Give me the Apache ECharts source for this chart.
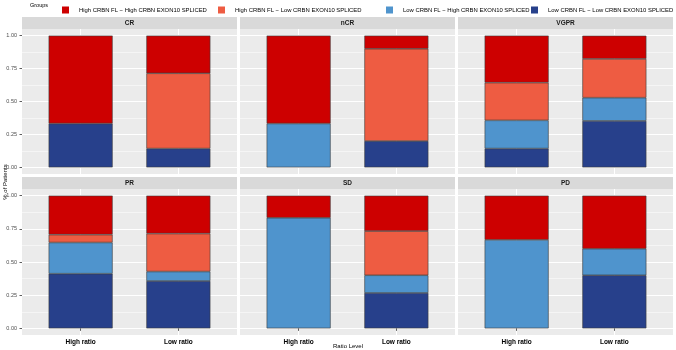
<!DOCTYPE html>
<html>
<head>
<meta charset="utf-8">
<script src="https://cdn.jsdelivr.net/npm/echarts@6/dist/echarts.min.js"></script>
<style>
  html, body { margin: 0; padding: 0; background: #fff; }
  #chart { width: 676px; height: 350px; }
</style>
</head>
<body>
<div id="chart"></div>
<script>
// facets and categories
var responses = ['CR', 'nCR', 'VGPR', 'PR', 'SD', 'PD'];
var ratioLevels = ['High ratio', 'Low ratio'];
var groupNames = [
  'High CRBN FL \u2212 High CRBN EXON10 SPLICED',
  'High CRBN FL \u2212 Low CRBN EXON10 SPLICED',
  'Low CRBN FL \u2212 High CRBN EXON10 SPLICED',
  'Low CRBN FL \u2212 Low CRBN EXON10 SPLICED'
];

// share of patients, [High ratio, Low ratio] for each response in order
var highFlHighSpliced = [[0.667, 0.286], [0.667, 0.100], [0.357, 0.176], [0.294, 0.286], [0.167, 0.267], [0.333, 0.400]];
var highFlLowSpliced  = [[0, 0.571], [0, 0.700], [0.286, 0.294], [0.059, 0.286], [0, 0.333], [0, 0]];
var lowFlHighSpliced  = [[0, 0], [0.333, 0], [0.214, 0.176], [0.235, 0.071], [0.833, 0.133], [0.667, 0.200]];
var lowFlLowSpliced   = [[0.333, 0.143], [0, 0.200], [0.143, 0.353], [0.412, 0.357], [0, 0.267], [0, 0.400]];

var yTicks = [0, 0.25, 0.5, 0.75, 1];
var yMinorTicks = [0.125, 0.375, 0.625, 0.875];
var xTicks = [1, 2];

var colors = ['#CD0000', '#EE5C42', '#4F94CD', '#27408B'];
var font = "'Liberation Sans', Arial, sans-serif";

var colLeft = [22, 240, 458];
var panelW = 215;
var rowTop = [29, 189];
var panelH = [145, 146];

// bottom of the stack first
var stackOrder = [3, 2, 1, 0];
var groupData = [highFlHighSpliced, highFlLowSpliced, lowFlHighSpliced, lowFlLowSpliced];

var grids = [], xAxes = [], yAxes = [], series = [], graphics = [];

responses.forEach(function (resp, i) {
  var row = Math.floor(i / 3), col = i % 3;
  var isBottom = row === 1, isLeft = col === 0;

  grids.push({
    left: colLeft[col], top: rowTop[row], width: panelW, height: panelH[row],
    show: true, backgroundColor: '#EBEBEB', borderWidth: 0
  });

  xAxes.push({
    type: 'value', gridIndex: i, min: 0.4, max: 2.6,
    axisLine: { show: false },
    axisTick: { show: isBottom, customValues: xTicks, length: 2.5, lineStyle: { color: '#333333', width: 0.8 } },
    axisLabel: {
      show: isBottom, customValues: xTicks, margin: 4,
      formatter: function (v) { return ratioLevels[v - 1]; },
      fontFamily: font, fontSize: 6.5, fontWeight: 'bold', color: '#000'
    },
    splitLine: { show: true, lineStyle: { color: '#FFFFFF', width: 1 } }
  });

  yAxes.push({
    type: 'value', gridIndex: i, min: -0.05, max: 1.05,
    axisLine: { show: false },
    axisTick: { show: isLeft, customValues: yTicks, length: 2.5, lineStyle: { color: '#333333', width: 0.8 } },
    axisLabel: {
      show: isLeft, customValues: yTicks, margin: 5,
      formatter: function (v) { return v.toFixed(2); },
      fontFamily: font, fontSize: 5.5, color: '#4D4D4D'
    },
    splitLine: { show: true, lineStyle: { color: '#FFFFFF', width: 1 } }
  });
  yAxes.push({
    type: 'value', gridIndex: i, min: -0.05, max: 1.05, position: 'right',
    axisLine: { show: false },
    axisTick: { show: false, customValues: yMinorTicks },
    axisLabel: { show: false, customValues: yMinorTicks },
    splitLine: { show: true, lineStyle: { color: '#FFFFFF', width: 0.5 } }
  });

  stackOrder.forEach(function (g) {
    series.push({
      name: groupNames[g], type: 'bar', stack: 'p' + i,
      xAxisIndex: i, yAxisIndex: 2 * i,
      barWidth: 64,
      // value first so the stack runs along y
      encode: { x: 1, y: 0 },
      itemStyle: { color: colors[g], borderColor: '#3A3A3A', borderWidth: 0.6 },
      emphasis: { disabled: true },
      data: groupData[g][i].map(function (v, k) { return [v ? v : null, k + 1]; })
    });
  });

  // facet strip
  graphics.push({
    type: 'rect', left: colLeft[col], top: rowTop[row] - 12,
    shape: { width: panelW, height: 12 }, style: { fill: '#D9D9D9' }
  });
  graphics.push({
    type: 'text', x: colLeft[col] + panelW / 2, y: rowTop[row] - 6,
    style: { text: resp, fill: '#1A1A1A', font: 'bold 6.5px ' + font, align: 'center', verticalAlign: 'middle' }
  });
});

graphics.push({
  type: 'text', x: 30, y: 5,
  style: { text: 'Groups', fill: '#000', font: '5.5px ' + font, align: 'left', verticalAlign: 'middle' }
});
graphics.push({
  type: 'text', x: 348, y: 346.5,
  style: { text: 'Ratio Level', fill: '#000', font: '6px ' + font, align: 'center', verticalAlign: 'middle' }
});
graphics.push({
  type: 'text', x: 5, y: 182, rotation: Math.PI / 2,
  style: { text: '% of Patients', fill: '#000', font: '6px ' + font, align: 'center', verticalAlign: 'middle' }
});

var legendLeft = [57, 213, 381, 526];
var legends = groupNames.map(function (name, g) {
  return {
    data: [name], left: legendLeft[g], top: 1.5,
    icon: 'rect', itemWidth: 7, itemHeight: 7, selectedMode: false,
    itemStyle: { borderWidth: 0 },
    textStyle: { fontFamily: font, fontSize: 5.9, color: '#000', padding: [0, 0, 0, 5] }
  };
});

var chart = echarts.init(document.getElementById('chart'));
chart.setOption({
  animation: false,
  legend: legends,
  grid: grids,
  xAxis: xAxes,
  yAxis: yAxes,
  series: series,
  graphic: graphics
});
</script>
</body>
</html>
